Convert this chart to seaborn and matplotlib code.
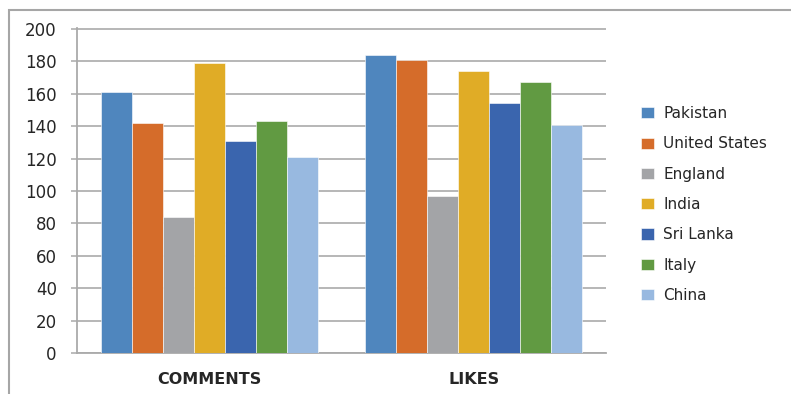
import matplotlib
matplotlib.use("Agg")
import matplotlib.pyplot as plt
from matplotlib.patches import Rectangle
import pandas as pd
import seaborn as sns

# Engagement counts per country
metrics = ["COMMENTS", "LIKES"]
countries = ["Pakistan", "United States", "England", "India", "Sri Lanka", "Italy", "China"]
comments = [161, 142, 84, 179, 131, 143, 121]
likes = [184, 181, 97, 174, 154, 167, 141]
yticks = [0, 20, 40, 60, 80, 100, 120, 140, 160, 180, 200]

colors = ["#4F86BE", "#D56C2A", "#A3A4A7", "#E0AC26", "#3A65AE", "#619A42", "#98B9E0"]

rows = []
for c, v in zip(countries, comments):
    rows.append({"metric": metrics[0], "country": c, "value": v})
for c, v in zip(countries, likes):
    rows.append({"metric": metrics[1], "country": c, "value": v})
df = pd.DataFrame(rows)

sns.set_theme(style="white")
plt.rcParams["font.family"] = ["DejaVu Sans"]

W, H = 791, 394
fig = plt.figure(figsize=(W / 100, H / 100), dpi=100)
ax = fig.add_axes([77 / W, 1 - 353 / H, (606 - 77) / W, (353 - 28) / H])

sns.barplot(data=df, x="metric", y="value", hue="country", order=metrics,
            hue_order=countries, palette=colors, width=0.82, gap=0,
            edgecolor="#FFFFFF", linewidth=0.4, saturation=1, ax=ax, zorder=3)

grid_c = "#AAAAAA"
ax.set_ylim(0, 200.6)
ax.set_xlim(-0.5, 1.5)
ax.set_yticks(yticks)
ax.yaxis.grid(True, color=grid_c, linewidth=1.2, zorder=0)
ax.set_axisbelow(True)
for s in ["top", "right"]:
    ax.spines[s].set_visible(False)
for s in ["left", "bottom"]:
    ax.spines[s].set_color(grid_c)
    ax.spines[s].set_linewidth(1.3)

ax.tick_params(axis="y", length=4.5, width=1.1, color=grid_c, pad=10,
               labelsize=12, labelcolor="#262626", left=True)
ax.tick_params(axis="x", length=0, pad=14, labelsize=11.5, labelcolor="#262626")
for lbl in ax.get_xticklabels():
    lbl.set_fontweight("bold")
ax.set_xlabel("")
ax.set_ylabel("")

leg = ax.legend(loc="center left", bbox_to_anchor=(0.793, 0.481),
                bbox_transform=fig.transFigure, frameon=False, fontsize=11,
                handlelength=0.85, handleheight=0.75, handletextpad=0.6,
                labelspacing=1.0)
for t in leg.get_texts():
    t.set_color("#262626")

# outer chart frame
fig.patches.append(Rectangle((9 / W, -0.1), 1.2, 1.1 - 10 / H,
                             transform=fig.transFigure, fill=False,
                             edgecolor="#A6A6A6", linewidth=1.5))

fig.savefig("out.png", dpi=100)
